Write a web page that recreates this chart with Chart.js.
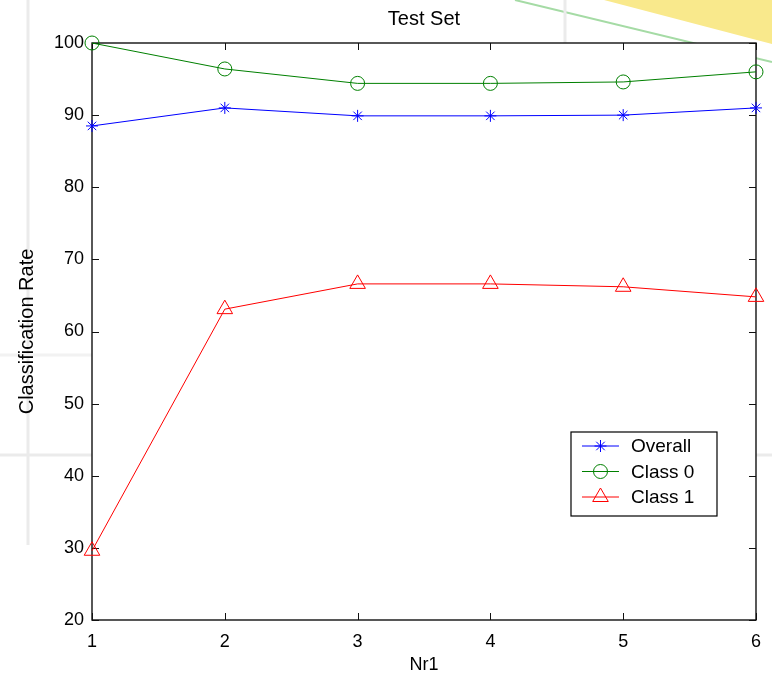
<!DOCTYPE html>
<html>
<head>
<meta charset="utf-8">
<script src="https://cdn.jsdelivr.net/npm/chart.js@4.4.1/dist/chart.umd.min.js"></script>
<style>
  html, body { margin: 0; padding: 0; background: #fff; }
  #wrap { width: 772px; height: 676px; }
</style>
</head>
<body>
<div id="wrap"><canvas id="rate" width="772" height="676"></canvas></div>
<script>
const nr1 = [1, 2, 3, 4, 5, 6];
const overall = [88.5, 91.0, 89.9, 89.9, 90.0, 91.0];
const class0 = [100.0, 96.4, 94.4, 94.4, 94.6, 96.0];
const class1 = [29.6, 63.1, 66.6, 66.6, 66.2, 64.8];
const yTicks = [20, 30, 40, 50, 60, 70, 80, 90, 100];

const FONT = "'Liberation Sans', Arial, sans-serif";

const toPoints = vals => nr1.map((x, i) => ({ x: x, y: vals[i] }));

// faint page watermark behind the axes
const backdrop = {
    id: 'backdrop',
    beforeDraw(chart) {
        const c = chart.ctx, a = chart.chartArea;
        c.save();
        c.fillStyle = '#fff';
        c.fillRect(0, 0, chart.width, chart.height);
        c.fillStyle = '#f9e98c';
        c.beginPath();
        c.moveTo(604, 0); c.lineTo(772, 0); c.lineTo(772, 44); c.closePath();
        c.fill();
        c.strokeStyle = '#a5dba5';
        c.lineWidth = 2;
        c.beginPath(); c.moveTo(515, 0); c.lineTo(772, 62); c.stroke();
        c.strokeStyle = '#ebebeb';
        c.lineWidth = 3;
        c.beginPath();
        c.moveTo(28, 0); c.lineTo(28, 545);
        c.moveTo(0, 455); c.lineTo(772, 455);
        c.moveTo(565, 0); c.lineTo(565, 45);
        c.stroke();
        c.strokeStyle = '#f2f2f2';
        c.beginPath(); c.moveTo(0, 355); c.lineTo(92, 355); c.stroke();
        c.fillStyle = '#fff';
        c.fillRect(a.left, a.top, a.right - a.left, a.bottom - a.top);
        c.restore();
    }
};

// matlab style box with inward ticks
const axesBox = {
    id: 'axesBox',
    beforeDatasetsDraw(chart) {
        const c = chart.ctx, a = chart.chartArea;
        const xs = chart.scales.x, ys = chart.scales.y;
        const len = 7;
        c.save();
        c.strokeStyle = '#111';
        c.lineWidth = 1.4;
        c.strokeRect(a.left, a.top, a.right - a.left, a.bottom - a.top);
        c.lineWidth = 1;
        c.beginPath();
        xs.ticks.forEach(t => {
            const px = Math.round(xs.getPixelForValue(t.value)) + 0.5;
            c.moveTo(px, a.bottom); c.lineTo(px, a.bottom - len);
            c.moveTo(px, a.top); c.lineTo(px, a.top + len);
        });
        ys.ticks.forEach(t => {
            const py = Math.round(ys.getPixelForValue(t.value)) + 0.5;
            c.moveTo(a.left, py); c.lineTo(a.left + len, py);
            c.moveTo(a.right, py); c.lineTo(a.right - len, py);
        });
        c.stroke();
        c.restore();
    }
};

// legend box inside the axes, lower right
const boxLegend = {
    id: 'boxLegend',
    afterDatasetsDraw(chart) {
        const c = chart.ctx, a = chart.chartArea;
        const left = a.right - 185, top = a.top + 389;
        const w = 146, h = 84;
        c.save();
        c.fillStyle = '#fff';
        c.fillRect(left, top, w, h);
        c.strokeStyle = '#000';
        c.lineWidth = 1.2;
        c.strokeRect(left, top, w, h);
        c.font = '19px ' + FONT;
        c.textBaseline = 'middle';
        c.textAlign = 'left';
        chart.data.datasets.forEach((ds, i) => {
            const y = top + 14 + i * 25.5;
            c.strokeStyle = ds.borderColor;
            c.lineWidth = 1;
            c.beginPath(); c.moveTo(left + 11, y); c.lineTo(left + 48, y); c.stroke();
            c.fillStyle = 'rgba(0,0,0,0)';
            Chart.helpers.drawPoint(c, {
                pointStyle: ds.pointStyle,
                radius: ds.pointRadius,
                borderWidth: 1,
                rotation: 0
            }, left + 29.5, y);
            c.fillStyle = '#000';
            c.fillText(ds.label, left + 60, y + 1);
        });
        c.restore();
    }
};

const mk = (label, vals, color, style, r) => ({
    label: label,
    data: toPoints(vals),
    borderColor: color,
    backgroundColor: 'rgba(0,0,0,0)',
    pointBackgroundColor: 'rgba(0,0,0,0)',
    pointBorderColor: color,
    pointStyle: style,
    pointRadius: r,
    pointBorderWidth: 1,
    borderWidth: 1,
    tension: 0,
    clip: false
});

new Chart(document.getElementById('rate'), {
    type: 'line',
    data: {
        datasets: [
            mk('Overall', overall, '#0000ff', 'star', 6),
            mk('Class 0', class0, '#008000', 'circle', 7),
            mk('Class 1', class1, '#ff0000', 'triangle', 9)
        ]
    },
    options: {
        responsive: false,
        animation: false,
        layout: { padding: { left: 0, right: 15, top: 0, bottom: 0 } },
        plugins: {
            legend: { display: false },
            tooltip: { enabled: false },
            title: {
                display: true,
                text: 'Test Set',
                fullSize: false,
                color: '#000',
                font: { family: FONT, size: 20, weight: 'normal' },
                padding: { top: 7, bottom: 12 }
            }
        },
        scales: {
            x: {
                type: 'linear',
                min: nr1[0],
                max: nr1[nr1.length - 1],
                afterFit: s => { s.height = 56; },
                grid: { display: false, drawTicks: false },
                border: { display: false },
                ticks: {
                    stepSize: 1,
                    color: '#000',
                    padding: 11,
                    font: { family: FONT, size: 18 }
                },
                title: {
                    display: true,
                    text: 'Nr1',
                    color: '#000',
                    font: { family: FONT, size: 18 },
                    padding: { top: 0, bottom: 0 }
                }
            },
            y: {
                min: yTicks[0],
                max: yTicks[yTicks.length - 1],
                afterFit: s => { s.width = 92; },
                afterBuildTicks: s => { s.ticks = yTicks.map(v => ({ value: v })); },
                grid: { display: false, drawTicks: false },
                border: { display: false },
                ticks: {
                    color: '#000',
                    padding: 8,
                    font: { family: FONT, size: 18 }
                },
                title: {
                    display: true,
                    text: 'Classification Rate',
                    color: '#000',
                    font: { family: FONT, size: 20 },
                    padding: { top: 15, bottom: 0 }
                }
            }
        }
    },
    plugins: [backdrop, axesBox, boxLegend]
});
</script>
</body>
</html>
